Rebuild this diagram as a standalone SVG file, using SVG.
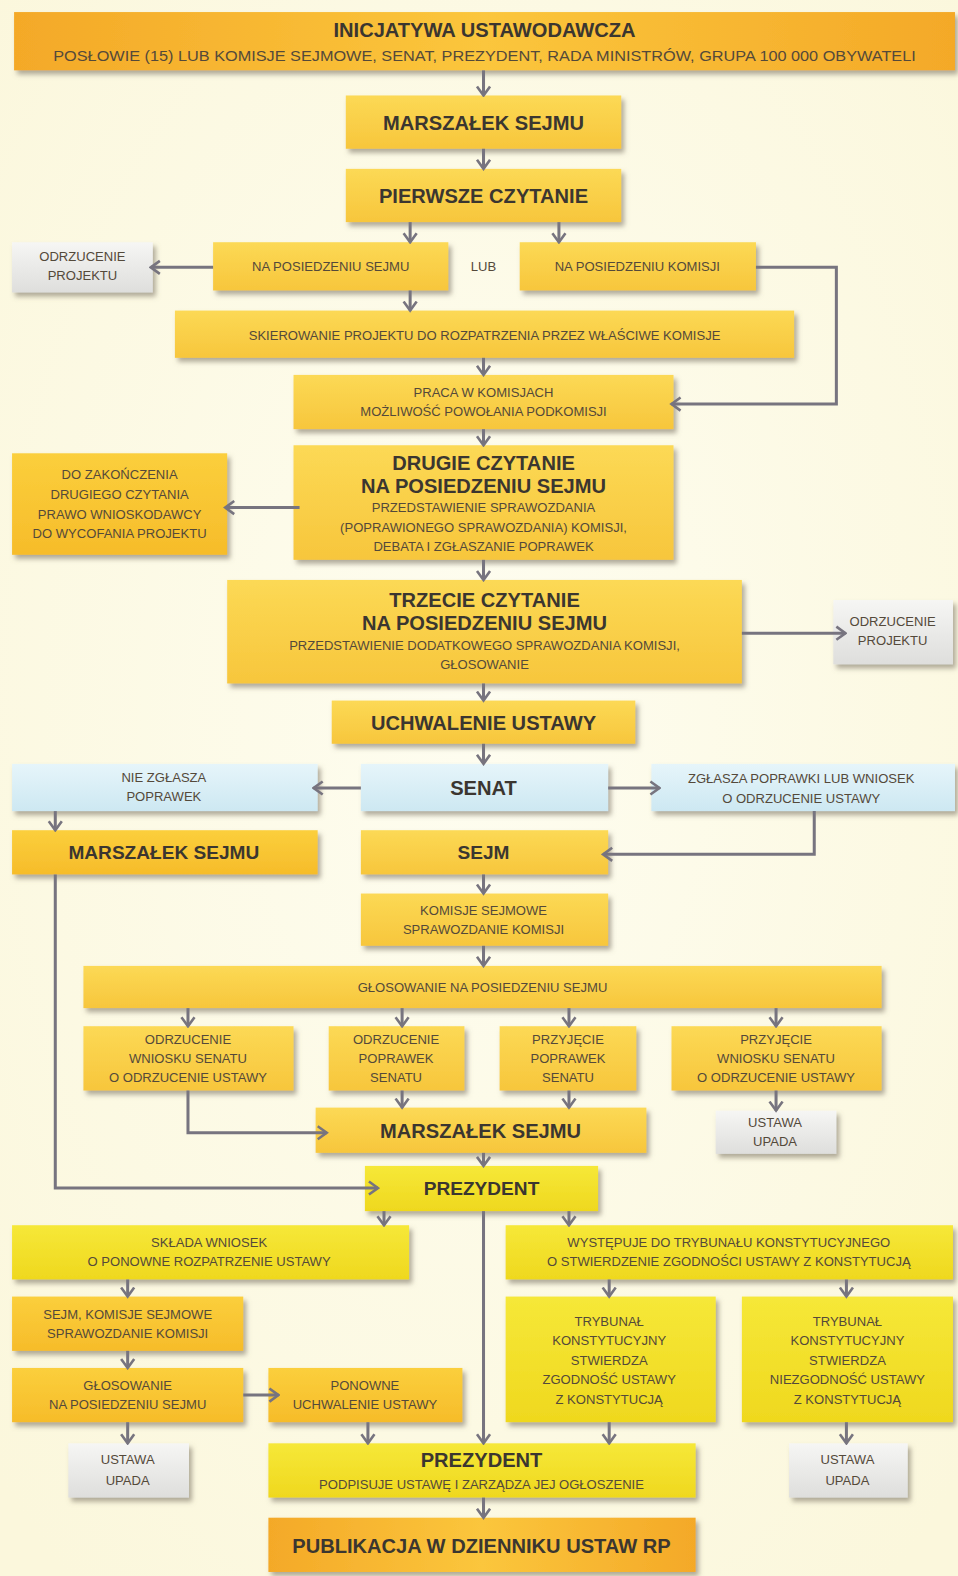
<svg xmlns="http://www.w3.org/2000/svg" width="958" height="1576" viewBox="0 0 958 1576">
<defs>
<radialGradient id="bg" cx="50%" cy="45%" r="70%"><stop offset="0" stop-color="#fefdf0"/><stop offset="1" stop-color="#fbf7dc"/></radialGradient>
<linearGradient id="gO" x1="0" y1="0" x2="1" y2="0"><stop offset="0" stop-color="#f4a928"/><stop offset="0.5" stop-color="#fbc63c"/><stop offset="1" stop-color="#f4a928"/></linearGradient>
<linearGradient id="gY" x1="0" y1="0" x2="0" y2="1"><stop offset="0" stop-color="#fcd955"/><stop offset="1" stop-color="#f7c63c"/></linearGradient>
<linearGradient id="gYO" x1="0" y1="0" x2="0" y2="1"><stop offset="0" stop-color="#fbcf3c"/><stop offset="1" stop-color="#f6bc2a"/></linearGradient>
<linearGradient id="gL" x1="0" y1="0" x2="0" y2="1"><stop offset="0" stop-color="#f6e838"/><stop offset="1" stop-color="#efd81e"/></linearGradient>
<linearGradient id="gB" x1="0" y1="0" x2="0" y2="1"><stop offset="0" stop-color="#e6f5fa"/><stop offset="1" stop-color="#cde8f2"/></linearGradient>
<linearGradient id="gG" x1="0" y1="0" x2="0" y2="1"><stop offset="0" stop-color="#f6f6f4"/><stop offset="1" stop-color="#dededc"/></linearGradient>
<filter id="sh" x="-10%" y="-20%" width="130%" height="150%"><feDropShadow dx="3" dy="4" stdDeviation="2.5" flood-color="#7d7565" flood-opacity="0.6"/></filter>
<marker id="ar" viewBox="0 0 12 16" refX="10" refY="8" markerWidth="12" markerHeight="16" markerUnits="userSpaceOnUse" orient="auto"><path d="M1,1.5 L10,8 L1,14.5" fill="none" stroke="#77747f" stroke-width="2.6" stroke-linejoin="miter"/></marker>
<style>
.n rect{filter:url(#sh)}
.o{fill:url(#gO)}.y{fill:url(#gY)}.yo{fill:url(#gYO)}.l{fill:url(#gL)}.b{fill:url(#gB)}.g{fill:url(#gG)}
text{font-family:"Liberation Sans",Arial,sans-serif;text-anchor:middle}
.t{font-size:20px;font-weight:bold;fill:#3b3630}
.s{font-size:13px;fill:#54493a}
.c path{fill:none;stroke:#77747f;stroke-width:3;marker-end:url(#ar)}
</style>
</defs>
<rect width="958" height="1576" fill="url(#bg)"/>
<g transform="scale(1.00525,1.0051)">
<g class="n" id="n1"><rect class="o" x="14" y="12" width="936" height="58"/><text class="t" x="482" y="37">INICJATYWA USTAWODAWCZA</text><text class="s" style="font-size:15px" x="482" y="61" textLength="858" lengthAdjust="spacingAndGlyphs">POSŁOWIE (15) LUB KOMISJE SEJMOWE, SENAT, PREZYDENT, RADA MINISTRÓW, GRUPA 100 000 OBYWATELI</text></g>
<g class="n" id="n2"><rect class="y" x="344" y="95" width="274" height="53"/><text class="t" x="481" y="129">MARSZAŁEK SEJMU</text></g>
<g class="n" id="n3"><rect class="y" x="344" y="168" width="274" height="53"/><text class="t" x="481" y="202">PIERWSZE CZYTANIE</text></g>
<g class="n" id="n4"><rect class="g" x="12" y="241" width="140" height="50"/><text class="s" x="82" y="260">ODRZUCENIE</text><text class="s" x="82" y="279">PROJEKTU</text></g>
<g class="n" id="n5"><rect class="y" x="212" y="241" width="234" height="48"/><text class="s" x="329" y="270">NA POSIEDZENIU SEJMU</text></g>
<text class="s" x="481" y="270">LUB</text>
<g class="n" id="n6"><rect class="y" x="517" y="241" width="235" height="48"/><text class="s" x="634" y="270">NA POSIEDZENIU KOMISJI</text></g>
<g class="n" id="n7"><rect class="y" x="174" y="309" width="616" height="47"/><text class="s" x="482" y="338">SKIEROWANIE PROJEKTU DO ROZPATRZENIA PRZEZ WŁAŚCIWE KOMISJE</text></g>
<g class="n" id="n8"><rect class="y" x="292" y="373" width="378" height="54"/><text class="s" x="481" y="395">PRACA W KOMISJACH</text><text class="s" x="481" y="414">MOŻLIWOŚĆ POWOŁANIA PODKOMISJI</text></g>
<g class="n" id="n9"><rect class="yo" x="12" y="451" width="214" height="101"/><text class="s" x="119" y="477">DO ZAKOŃCZENIA</text><text class="s" x="119" y="496">DRUGIEGO CZYTANIA</text><text class="s" x="119" y="516">PRAWO WNIOSKODAWCY</text><text class="s" x="119" y="535">DO WYCOFANIA PROJEKTU</text></g>
<g class="n" id="n10"><rect class="y" x="292" y="443" width="378" height="114"/><text class="t" x="481" y="468">DRUGIE CZYTANIE</text><text class="t" x="481" y="491">NA POSIEDZENIU SEJMU</text><text class="s" x="481" y="509">PRZEDSTAWIENIE SPRAWOZDANIA</text><text class="s" x="481" y="529">(POPRAWIONEGO SPRAWOZDANIA) KOMISJI,</text><text class="s" x="481" y="548">DEBATA I ZGŁASZANIE POPRAWEK</text></g>
<g class="n" id="n11"><rect class="y" x="226" y="577" width="512" height="103"/><text class="t" x="482" y="604">TRZECIE CZYTANIE</text><text class="t" x="482" y="627">NA POSIEDZENIU SEJMU</text><text class="s" x="482" y="647">PRZEDSTAWIENIE DODATKOWEGO SPRAWOZDANIA KOMISJI,</text><text class="s" x="482" y="666">GŁOSOWANIE</text></g>
<g class="n" id="n12"><rect class="g" x="829" y="597" width="119" height="64"/><text class="s" x="888" y="623">ODRZUCENIE</text><text class="s" x="888" y="642">PROJEKTU</text></g>
<g class="n" id="n13"><rect class="y" x="330" y="697" width="302" height="43"/><text class="t" x="481" y="726">UCHWALENIE USTAWY</text></g>
<g class="n" id="n14"><rect class="b" x="12" y="760" width="304" height="47"/><text class="s" x="163" y="778">NIE ZGŁASZA</text><text class="s" x="163" y="797">POPRAWEK</text></g>
<g class="n" id="n15"><rect class="b" x="359" y="760" width="246" height="47"/><text class="t" x="481" y="791">SENAT</text></g>
<g class="n" id="n16"><rect class="b" x="648" y="760" width="302" height="47"/><text class="s" x="797" y="779">ZGŁASZA POPRAWKI LUB WNIOSEK</text><text class="s" x="797" y="799">O ODRZUCENIE USTAWY</text></g>
<g class="n" id="n17"><rect class="yo" x="12" y="826" width="304" height="44"/><text class="t" style="font-size:19px" x="163" y="855">MARSZAŁEK SEJMU</text></g>
<g class="n" id="n18"><rect class="y" x="359" y="826" width="246" height="44"/><text class="t" style="font-size:19px" x="481" y="855">SEJM</text></g>
<g class="n" id="n19"><rect class="y" x="359" y="889" width="246" height="52"/><text class="s" x="481" y="910">KOMISJE SEJMOWE</text><text class="s" x="481" y="929">SPRAWOZDANIE KOMISJI</text></g>
<g class="n" id="n20"><rect class="y" x="83" y="961" width="794" height="42"/><text class="s" x="480" y="987">GŁOSOWANIE NA POSIEDZENIU SEJMU</text></g>
<g class="n" id="n21"><rect class="y" x="83" y="1021" width="209" height="64"/><text class="s" x="187" y="1039">ODRZUCENIE</text><text class="s" x="187" y="1058">WNIOSKU SENATU</text><text class="s" x="187" y="1077">O ODRZUCENIE USTAWY</text></g>
<g class="n" id="n22"><rect class="y" x="327" y="1021" width="135" height="64"/><text class="s" x="394" y="1039">ODRZUCENIE</text><text class="s" x="394" y="1058">POPRAWEK</text><text class="s" x="394" y="1077">SENATU</text></g>
<g class="n" id="n23"><rect class="y" x="497" y="1021" width="136" height="64"/><text class="s" x="565" y="1039">PRZYJĘCIE</text><text class="s" x="565" y="1058">POPRAWEK</text><text class="s" x="565" y="1077">SENATU</text></g>
<g class="n" id="n24"><rect class="y" x="668" y="1021" width="209" height="64"/><text class="s" x="772" y="1039">PRZYJĘCIE</text><text class="s" x="772" y="1058">WNIOSKU SENATU</text><text class="s" x="772" y="1077">O ODRZUCENIE USTAWY</text></g>
<g class="n" id="n25"><rect class="y" x="314" y="1102" width="329" height="45"/><text class="t" x="478" y="1132">MARSZAŁEK SEJMU</text></g>
<g class="n" id="n26"><rect class="g" x="712" y="1105" width="120" height="43"/><text class="s" x="771" y="1121">USTAWA</text><text class="s" x="771" y="1140">UPADA</text></g>
<g class="n" id="n27"><rect class="l" x="363" y="1160" width="232" height="45"/><text class="t" style="font-size:19px" x="479" y="1189">PREZYDENT</text></g>
<g class="n" id="n28"><rect class="l" x="12" y="1219" width="395" height="54"/><text class="s" x="208" y="1241">SKŁADA WNIOSEK</text><text class="s" x="208" y="1260">O PONOWNE ROZPATRZENIE USTAWY</text></g>
<g class="n" id="n29"><rect class="l" x="503" y="1219" width="445" height="54"/><text class="s" x="725" y="1241">WYSTĘPUJE DO TRYBUNAŁU KONSTYTUCYJNEGO</text><text class="s" x="725" y="1260">O STWIERDZENIE ZGODNOŚCI USTAWY Z KONSTYTUCJĄ</text></g>
<g class="n" id="n30"><rect class="yo" x="12" y="1290" width="230" height="54"/><text class="s" x="127" y="1312">SEJM, KOMISJE SEJMOWE</text><text class="s" x="127" y="1331">SPRAWOZDANIE KOMISJI</text></g>
<g class="n" id="n31"><rect class="yo" x="12" y="1361" width="230" height="54"/><text class="s" x="127" y="1383">GŁOSOWANIE</text><text class="s" x="127" y="1402">NA POSIEDZENIU SEJMU</text></g>
<g class="n" id="n32"><rect class="yo" x="267" y="1361" width="193" height="54"/><text class="s" x="363" y="1383">PONOWNE</text><text class="s" x="363" y="1402">UCHWALENIE USTAWY</text></g>
<g class="n" id="n33"><rect class="l" x="503" y="1290" width="209" height="125"/><text class="s" x="606" y="1319">TRYBUNAŁ</text><text class="s" x="606" y="1338">KONSTYTUCYJNY</text><text class="s" x="606" y="1358">STWIERDZA</text><text class="s" x="606" y="1377">ZGODNOŚĆ USTAWY</text><text class="s" x="606" y="1397">Z KONSTYTUCJĄ</text></g>
<g class="n" id="n34"><rect class="l" x="738" y="1290" width="210" height="125"/><text class="s" x="843" y="1319">TRYBUNAŁ</text><text class="s" x="843" y="1338">KONSTYTUCYJNY</text><text class="s" x="843" y="1358">STWIERDZA</text><text class="s" x="843" y="1377">NIEZGODNOŚĆ USTAWY</text><text class="s" x="843" y="1397">Z KONSTYTUCJĄ</text></g>
<g class="n" id="n35"><rect class="g" x="68" y="1436" width="120" height="54"/><text class="s" x="127" y="1457">USTAWA</text><text class="s" x="127" y="1477">UPADA</text></g>
<g class="n" id="n36"><rect class="l" x="267" y="1436" width="425" height="54"/><text class="t" x="479" y="1460">PREZYDENT</text><text class="s" x="479" y="1481">PODPISUJE USTAWĘ I ZARZĄDZA JEJ OGŁOSZENIE</text></g>
<g class="n" id="n37"><rect class="g" x="785" y="1436" width="118" height="54"/><text class="s" x="843" y="1457">USTAWA</text><text class="s" x="843" y="1477">UPADA</text></g>
<g class="n" id="n38"><rect class="o" x="267" y="1510" width="425" height="54"/><text class="t" x="479" y="1545">PUBLIKACJA W DZIENNIKU USTAW RP</text></g>
<g class="c" id="connectors">
<path d="M481,70 V95"/>
<path d="M481,148 V168"/>
<path d="M408,221 V241"/>
<path d="M556,221 V241"/>
<path d="M212,266 H150"/>
<path d="M408,289 V309"/>
<path d="M752,266 H832 V402 H668"/>
<path d="M481,356 V373"/>
<path d="M481,427 V443"/>
<path d="M298,505 H224"/>
<path d="M481,557 V577"/>
<path d="M738,630 H841"/>
<path d="M481,680 V697"/>
<path d="M481,740 V760"/>
<path d="M359,784 H312"/>
<path d="M605,784 H656"/>
<path d="M55,807 V826"/>
<path d="M810,807 V850 H600"/>
<path d="M55,870 V1182 H376"/>
<path d="M481,870 V889"/>
<path d="M481,941 V961"/>
<path d="M187,1003 V1021"/>
<path d="M400,1003 V1021"/>
<path d="M566,1003 V1021"/>
<path d="M772,1003 V1021"/>
<path d="M187,1085 V1127 H325"/>
<path d="M400,1085 V1102"/>
<path d="M566,1085 V1102"/>
<path d="M772,1085 V1105"/>
<path d="M481,1147 V1160"/>
<path d="M382,1205 V1219"/>
<path d="M566,1205 V1219"/>
<path d="M481,1205 V1436"/>
<path d="M127,1273 V1290"/>
<path d="M127,1344 V1361"/>
<path d="M242,1388 H277"/>
<path d="M127,1415 V1436"/>
<path d="M366,1415 V1436"/>
<path d="M606,1273 V1290"/>
<path d="M842,1273 V1290"/>
<path d="M606,1415 V1436"/>
<path d="M842,1415 V1436"/>
<path d="M481,1490 V1510"/>
</g>
</g>
</svg>
